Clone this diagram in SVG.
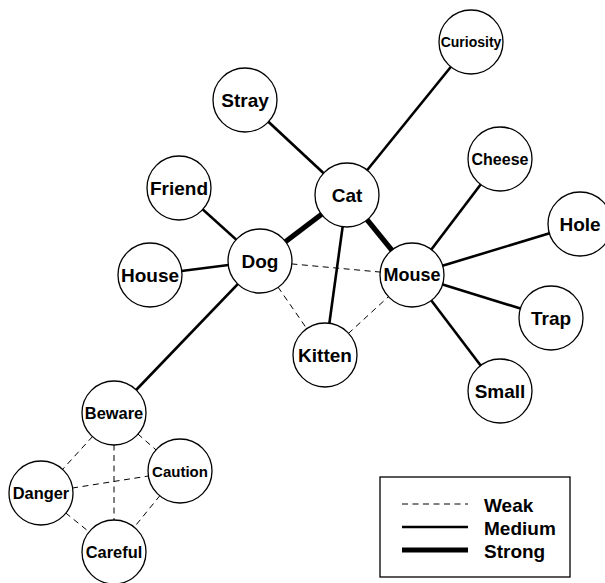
<svg xmlns="http://www.w3.org/2000/svg" width="605" height="583" viewBox="0 0 605 583">
<style>
.n circle{fill:#fff;stroke:#000;stroke-width:1.3}
text{font-family:"Liberation Sans",Arial,sans-serif;font-weight:bold;text-anchor:middle;fill:#000}
.lg{text-anchor:start;font-size:19px}
.m{stroke:#000;stroke-width:2.6;fill:none}
.s{stroke:#000;stroke-width:5.2;fill:none}
.w{stroke:#000;stroke-width:1;stroke-dasharray:6 4.5;fill:none}
</style>
<rect width="605" height="583" fill="#fff"/>
<g id="connectors">
<line class="m" x1="245" y1="100" x2="347" y2="195"/>
<line class="m" x1="471" y1="42" x2="347" y2="195"/>
<line class="m" x1="179" y1="188" x2="260" y2="261"/>
<line class="m" x1="150" y1="275" x2="260" y2="261"/>
<line class="m" x1="260" y1="261" x2="114" y2="413"/>
<line class="m" x1="347" y1="195" x2="325" y2="355"/>
<line class="m" x1="412" y1="275" x2="500" y2="159"/>
<line class="m" x1="412" y1="275" x2="580" y2="224"/>
<line class="m" x1="412" y1="275" x2="551" y2="318"/>
<line class="m" x1="412" y1="275" x2="500" y2="391"/>
<line class="s" x1="347" y1="195" x2="260" y2="261"/>
<line class="s" x1="347" y1="195" x2="412" y2="275"/>
<line class="w" x1="260" y1="261" x2="412" y2="275"/>
<line class="w" x1="260" y1="261" x2="325" y2="355"/>
<line class="w" x1="325" y1="355" x2="412" y2="275"/>
<line class="w" x1="114" y1="413" x2="180" y2="471"/>
<line class="w" x1="114" y1="413" x2="41" y2="493"/>
<line class="w" x1="114" y1="413" x2="114" y2="552"/>
<line class="w" x1="41" y1="493" x2="180" y2="471"/>
<line class="w" x1="41" y1="493" x2="114" y2="552"/>
<line class="w" x1="180" y1="471" x2="114" y2="552"/>
</g>
<g id="curiosity" class="n"><circle cx="471" cy="42" r="32"/><text x="471" y="47" font-size="14">Curiosity</text></g>
<g id="stray" class="n"><circle cx="245" cy="100" r="32"/><text x="245" y="107" font-size="19">Stray</text></g>
<g id="cat" class="n"><circle cx="347" cy="195" r="32"/><text x="347" y="202" font-size="19">Cat</text></g>
<g id="cheese" class="n"><circle cx="500" cy="159" r="32"/><text x="500" y="165" font-size="16">Cheese</text></g>
<g id="friend" class="n"><circle cx="179" cy="188" r="32"/><text x="179" y="195" font-size="19">Friend</text></g>
<g id="hole" class="n"><circle cx="580" cy="224" r="32"/><text x="580" y="231" font-size="19">Hole</text></g>
<g id="dog" class="n"><circle cx="260" cy="261" r="32"/><text x="260" y="268" font-size="19">Dog</text></g>
<g id="house" class="n"><circle cx="150" cy="275" r="32"/><text x="150" y="282" font-size="19">House</text></g>
<g id="mouse" class="n"><circle cx="412" cy="275" r="32"/><text x="412" y="281" font-size="18">Mouse</text></g>
<g id="trap" class="n"><circle cx="551" cy="318" r="32"/><text x="551" y="325" font-size="19">Trap</text></g>
<g id="kitten" class="n"><circle cx="325" cy="355" r="32"/><text x="325" y="362" font-size="19">Kitten</text></g>
<g id="small" class="n"><circle cx="500" cy="391" r="32"/><text x="500" y="398" font-size="19">Small</text></g>
<g id="beware" class="n"><circle cx="114" cy="413" r="32"/><text x="114" y="419" font-size="16.4">Beware</text></g>
<g id="caution" class="n"><circle cx="180" cy="471" r="32"/><text x="180" y="477" font-size="15">Caution</text></g>
<g id="danger" class="n"><circle cx="41" cy="493" r="32"/><text x="41" y="499" font-size="16.4">Danger</text></g>
<g id="careful" class="n"><circle cx="114" cy="552" r="32"/><text x="114" y="558" font-size="16.4">Careful</text></g>
<g id="legend">
<rect x="380" y="477" width="190" height="100" fill="#fff" stroke="#000" stroke-width="1.3"/>
<line class="w" x1="402" y1="504" x2="468" y2="504"/>
<line class="m" x1="402" y1="527" x2="468" y2="527"/>
<line class="s" x1="402" y1="550" x2="468" y2="550"/>
<text class="lg" x="484" y="512">Weak</text>
<text class="lg" x="484" y="535">Medium</text>
<text class="lg" x="484" y="558">Strong</text>
</g>
</svg>
